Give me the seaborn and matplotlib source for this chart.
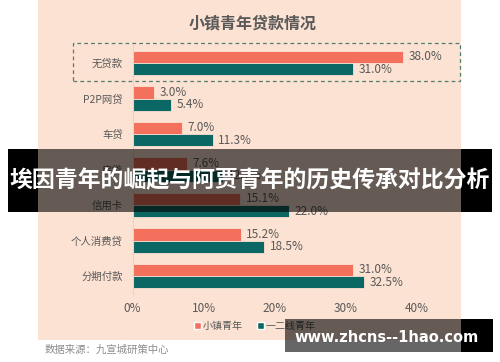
import matplotlib
matplotlib.use("Agg")
import matplotlib.pyplot as plt
import seaborn as sns
import pandas as pd
from matplotlib.patches import Rectangle

# data
categories = ['无贷款', 'P2P网贷', '车贷', '房贷', '信用卡', '个人消费贷', '分期付款']
town_youth = [38.0, 3.0, 7.0, 7.6, 15.1, 15.2, 31.0]
city_youth = [31.0, 5.4, 11.3, 12.7, 22.0, 18.5, 32.5]
series = ['小镇青年', '一二线青年']
x_ticks = [0, 10, 20, 30, 40]

title = '小镇青年贷款情况'
banner = '埃因青年的崛起与阿贾青年的历史传承对比分析'
source = '数据来源：九宣城研策中心'
watermark = 'www.zhcns--1hao.com'

colors = ['#f2705c', '#0b6763']
peach = '#fce2d2'
grey = '#595959'

df = pd.DataFrame({
    'cat': categories * 2,
    'val': town_youth + city_youth,
    'grp': [series[0]] * len(categories) + [series[1]] * len(categories),
})

sns.set_theme(style='white')
plt.rcParams['font.family'] = ['Noto Sans CJK SC', 'DejaVu Sans']

W, H = 500, 362
fig = plt.figure(figsize=(W / 100, H / 100), dpi=100)
fig.patch.set_facecolor('white')

def px(x0, y0, x1, y1):
    # pixel box -> figure fraction (left, bottom, width, height)
    return (x0 / W, 1 - y1 / H, (x1 - x0) / W, (y1 - y0) / H)

# peach panel
l, b, w, h = px(38, 0, 461, 340)
fig.patches.append(Rectangle((l, b), w, h, transform=fig.transFigure,
                             facecolor=peach, edgecolor='none', zorder=-5))

ax = fig.add_axes(px(132.5, 45.25, 417, 293.75))
ax.set_zorder(1)
ax.set_facecolor('none')
sns.barplot(data=df, x='val', y='cat', hue='grp', orient='h', palette=colors,
            saturation=1, width=0.68, edgecolor=peach, linewidth=0.6, ax=ax,
            legend=False)

ax.set_xlim(0, 40)
ax.set_ylim(6.5, -0.5)
ax.set_xticks(x_ticks)
ax.set_xticklabels([f'{t}%' for t in x_ticks])
ax.tick_params(axis='x', length=0, pad=6, labelsize=8.5, labelcolor=grey)
ax.tick_params(axis='y', length=0, pad=7, labelsize=7.5, labelcolor=grey)
ax.set_xlabel('')
ax.set_ylabel('')
for s in ['top', 'right', 'bottom']:
    ax.spines[s].set_visible(False)
ax.spines['left'].set_color('#e0d4cc')
ax.spines['left'].set_linewidth(0.8)

for cont in ax.containers:
    ax.bar_label(cont, labels=[f'{v:.1f}%' for v in cont.datavalues],
                 padding=4, fontsize=8.5, color=grey, clip_on=False)

# title
fig.text(253 / W, 1 - 23 / H, title, ha='center', va='center',
         fontsize=11.5, fontweight='bold', color=grey)

# dashed highlight box
l, b, w, h = px(73, 43, 460, 81)
fig.patches.append(Rectangle((l, b), w, h, transform=fig.transFigure,
                             facecolor='none', edgecolor='#4f7d72',
                             linestyle=(0, (3, 2.5)), linewidth=0.9, zorder=5))

# legend
handles = [Rectangle((0, 0), 1, 1, facecolor=c) for c in colors]
fig.legend(handles, series, loc='center', bbox_to_anchor=(255 / W, 1 - 326 / H),
           ncol=2, frameon=False, fontsize=7.2, labelcolor=grey,
           handlelength=0.7, handleheight=0.7, handletextpad=0.2,
           columnspacing=1.4)

# source note
fig.text(45 / W, 1 - 350 / H, source, ha='left', va='center',
         fontsize=7.5, color='#8c8c8c', style='italic')

# banner overlay
for x0, x1, a in [(8, 38, 1.0), (38, 461, 0.6), (461, 492, 1.0)]:
    l, b, w, h = px(x0, 149, x1, 212)
    fig.patches.append(Rectangle((l, b), w, h, transform=fig.transFigure,
                                 facecolor='black', alpha=a, edgecolor='none',
                                 zorder=10))
fig.text(250 / W, 1 - 181 / H, banner, ha='center', va='center',
         fontsize=16.5, fontweight='bold', color='white', zorder=11)

# watermark
for x0, x1, a in [(285, 461, 0.6), (461, 493, 1.0)]:
    l, b, w, h = px(x0, 319, x1, 352)
    fig.patches.append(Rectangle((l, b), w, h, transform=fig.transFigure,
                                 facecolor='black', alpha=a, edgecolor='none',
                                 zorder=10))
fig.text(387 / W, 1 - 337 / H, watermark, ha='center', va='center',
         fontsize=10.5, fontweight='bold', color='white', zorder=11,
         family=['DejaVu Sans'])

fig.savefig('out.png', dpi=100, facecolor='white')
